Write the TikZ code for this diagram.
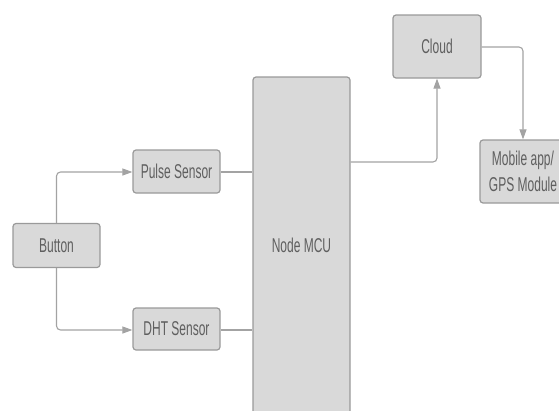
\documentclass[tikz,border=0pt]{standalone}
\usepackage{fontspec}
\setmainfont{Liberation Sans}[FakeStretch=0.6]
\usetikzlibrary{arrows.meta}
\definecolor{boxfill}{HTML}{D9D9D9}
\definecolor{boxline}{HTML}{9A9A9A}
\definecolor{wire}{HTML}{A3A3A3}
\definecolor{txt}{HTML}{5F5F5F}
\tikzset{
  blk/.style={draw=boxline, fill=boxfill, line width=1.2pt, rounded corners=3pt,
    inner sep=0pt, align=center, text=txt, font=\fontsize{20}{26}\selectfont},
  wirel/.style={draw=wire, line width=1.1pt, rounded corners=4pt},
  arr/.style={wirel, -{Triangle[length=10pt, width=7pt]}}
}
\begin{document}
\begin{tikzpicture}[x=1pt,y=-1pt]
\useasboundingbox (0,0) rectangle (559,410);
\node[blk, minimum width=87pt, minimum height=44pt] (btn) at (56.5,245.5) {Button};
\node[blk, minimum width=87pt, minimum height=43pt] (pulse) at (176.5,171.5) {Pulse Sensor};
\node[blk, minimum width=87pt, minimum height=42pt] (dht) at (176.5,329) {DHT Sensor};
\node[blk, minimum width=97pt, minimum height=337pt] (mcu) at (301.5,245.5) {Node MCU};
\node[blk, minimum width=88pt, minimum height=63pt] (cloud) at (437,46.5) {Cloud};
\node[blk, minimum width=86pt, minimum height=63pt] (mob) at (523,171.5) {Mobile app/\\GPS Module};
\coordinate (c1) at (56.5,172);
\coordinate (c2) at (56.5,330);
\draw[arr] (btn.north) -- (c1) -- (pulse.west |- c1);
\draw[arr] (btn.south) -- (c2) -- (dht.west |- c2);
\draw[wirel] (pulse.east |- c1) -- (mcu.west |- c1);
\draw[wirel] (dht.east |- c2) -- (mcu.west |- c2);
\coordinate (c3) at (437,162);
\draw[arr] (mcu.east |- c3) -- (c3) -- (cloud.south);
\coordinate (c4) at (523,47);
\draw[arr] (cloud.east |- c4) -- (c4) -- (mob.north);
\end{tikzpicture}
\end{document}
